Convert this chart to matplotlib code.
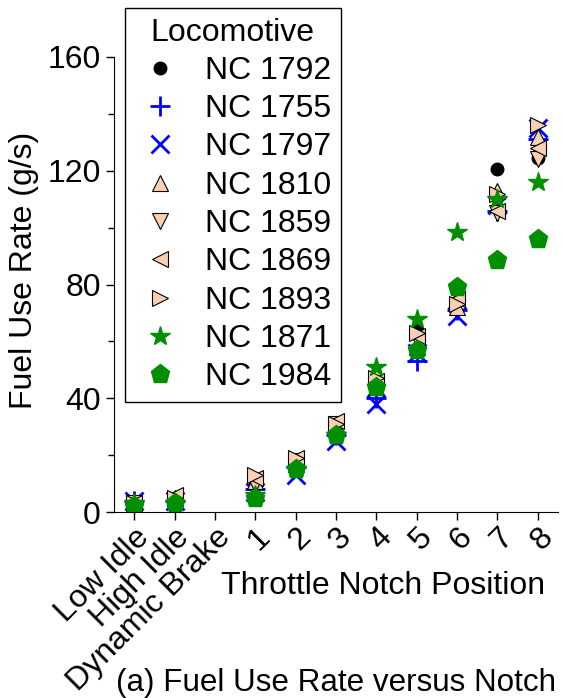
import numpy as np
import matplotlib
matplotlib.use('Agg')
import matplotlib.pyplot as plt
from matplotlib.ticker import MultipleLocator

plt.rcParams['font.family'] = ['Liberation Sans', 'DejaVu Sans']

# Throttle positions (Dynamic Brake has no data)
positions = ['Low Idle', 'High Idle', 'Dynamic Brake', '1', '2', '3', '4', '5', '6', '7', '8']

# Fuel use rate (g/s) per locomotive, nan = no measurement
nc1792 = [3, 4, np.nan, 10, 17, 29, 44, 64, 78, 120.5, 124.5]
nc1755 = [4, 4, np.nan, 8, 16, 27, 40, 53, 71, 106, 131]
nc1797 = [4, 4, np.nan, 7, 13, 25, 38, 56, 69, 108, 135]
nc1810 = [3, 5, np.nan, 11, 17, 30, 44, 58, 72, 113, 132]
nc1859 = [3, 4, np.nan, 10, 18, 31, 45, 61, 77, 105, 124]
nc1869 = [3, 6, np.nan, 12, 19, 32, 46, 62, 75, 106, 128]
nc1893 = [3, 5, np.nan, 13, 19, 31, 47, 63, 73, 112, 136]
nc1871 = [3, 3, np.nan, 6, 15, 27, 51, 68, 98.5, 110, 116]
nc1984 = [2, 3, np.nan, 5, 15, 27, 44, 57, 79, 88.5, 96]

peach = '#F9D0B3'
green = '#008F00'

series = [
    ('NC 1792', nc1792, dict(marker='o', color='black', ms=9, mec='black')),
    ('NC 1755', nc1755, dict(marker='+', color='blue', ms=14, mew=2)),
    ('NC 1797', nc1797, dict(marker='x', color='blue', ms=13, mew=2)),
    ('NC 1810', nc1810, dict(marker='^', color=peach, ms=12, mec='black', mew=0.8)),
    ('NC 1859', nc1859, dict(marker='v', color=peach, ms=12, mec='black', mew=0.8)),
    ('NC 1869', nc1869, dict(marker='<', color=peach, ms=12, mec='black', mew=0.8)),
    ('NC 1893', nc1893, dict(marker='>', color=peach, ms=12, mec='black', mew=0.8)),
    ('NC 1871', nc1871, dict(marker='*', color=green, ms=15, mec=green)),
    ('NC 1984', nc1984, dict(marker='p', color=green, ms=14, mec=green)),
]

fs = 23

fig = plt.figure(figsize=(5.63, 6.98), dpi=100)
ax = fig.add_axes([114 / 563, 1 - 512 / 698, 444 / 563, 455 / 698])

x = np.arange(len(positions))
handles = []
for label, vals, style in series:
    h, = ax.plot(x, vals, linestyle='none', label=label, **style)
    handles.append(h)

ax.set_xlim(-0.5, 10.5)
ax.set_ylim(0, 160)
ax.yaxis.set_major_locator(MultipleLocator(40))
ax.yaxis.set_minor_locator(MultipleLocator(20))
ax.set_xticks(x)
ax.set_xticklabels(positions, rotation=45, ha='right', rotation_mode='anchor')

for s in ['top', 'right']:
    ax.spines[s].set_visible(False)
ax.tick_params(axis='both', which='major', labelsize=fs, length=6, width=1, direction='out')
ax.tick_params(axis='x', which='major', pad=1.5)
ax.tick_params(axis='y', which='minor', length=4, width=1)

ax.set_xlabel('Throttle Notch Position', fontsize=fs)
ax.xaxis.set_label_coords(0.606, -0.13)
ax.set_ylabel('Fuel Use Rate (g/s)', fontsize=fs)
ax.yaxis.set_label_coords(-0.17, 0.53)

leg = fig.legend(handles=handles, title='Locomotive', loc='upper left',
                 bbox_to_anchor=(125 / 563, 1 - 8 / 698), fontsize=fs,
                 title_fontsize=fs, fancybox=False, edgecolor='black',
                 framealpha=1, labelspacing=0.26, handlelength=1.6,
                 handletextpad=0.6, borderpad=0.3, borderaxespad=0,
                 numpoints=1)
leg.get_frame().set_linewidth(1)

fig.text(116 / 563, 1 - 683 / 698, '(a) Fuel Use Rate versus Notch', fontsize=22.6, va='center')

fig.savefig('out.png', dpi=100)
